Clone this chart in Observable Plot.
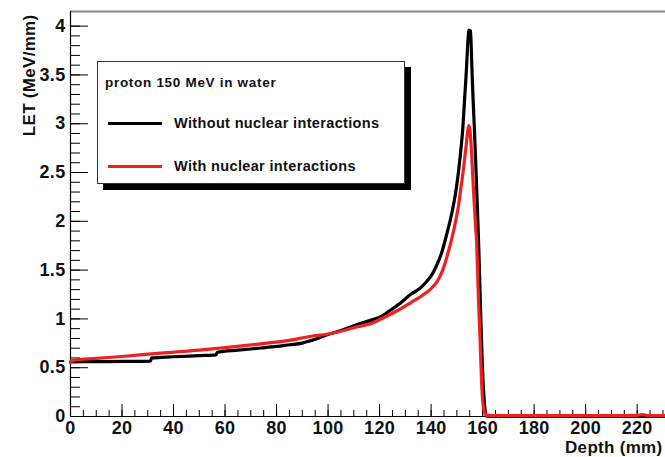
<!DOCTYPE html>
<html><head><meta charset="utf-8">
<script src="https://cdn.jsdelivr.net/npm/d3@7"></script>
<script src="https://cdn.jsdelivr.net/npm/@observablehq/plot@0.6"></script>
<style>
body{margin:0;background:#fff;}
#wrap{position:relative;width:665px;height:457px;overflow:hidden;}
.legend{position:absolute;left:97px;top:61px;width:308px;height:123px;border:1px solid #333;background:#fff;box-shadow:6px 6px 0 #000;font-family:"Liberation Sans",Arial,sans-serif;font-weight:bold;color:#111;box-sizing:border-box;}
.legend .hdr{position:absolute;left:7px;top:13px;font-size:13.5px;letter-spacing:0.7px;}
.legend .row{position:absolute;left:10px;height:20px;display:flex;align-items:center;}
.legend .sw{width:54px;height:3px;margin-right:12px;}
.legend .lab{font-size:14.5px;letter-spacing:0.35px;}
</style></head><body><div id="wrap"></div>
<script>
// ---- data ----
const depthBlack = [0, 5, 15, 25, 31, 31.5, 40, 50, 56.5, 57, 65, 74, 80, 85, 90, 93, 97, 100, 105, 110, 114, 117, 121, 124, 128, 132, 136, 138, 140, 142, 144, 146, 148, 149.5, 150.5, 151.5, 152.3, 153, 153.7, 154.3, 154.7, 155.3, 155.8, 156.3, 156.8, 157.4, 158, 158.6, 159.2, 159.8, 160.4, 161, 161.6, 231];
const letBlack = [0.560, 0.562, 0.563, 0.565, 0.566, 0.600, 0.612, 0.624, 0.632, 0.658, 0.680, 0.702, 0.718, 0.735, 0.752, 0.775, 0.810, 0.840, 0.880, 0.930, 0.965, 0.990, 1.030, 1.086, 1.160, 1.250, 1.320, 1.375, 1.440, 1.540, 1.670, 1.860, 2.080, 2.290, 2.480, 2.720, 2.950, 3.250, 3.550, 3.850, 3.960, 3.950, 3.600, 3.250, 2.950, 2.550, 2.120, 1.650, 1.100, 0.600, 0.250, 0.060, 0.0, 0.0];

const depthRed = [0, 0.3, 1, 10, 20, 35, 50, 60, 74, 85, 93, 100, 105, 110, 117, 124, 128, 132, 136, 140, 142.5, 144.5, 146.4, 148, 149.6, 150.7, 151.6, 152.4, 153.1, 153.7, 154.2, 154.6, 155.0, 155.5, 156.0, 156.6, 157.2, 157.7, 158.4, 159.0, 159.6, 160.2, 160.8, 161.5, 170, 190, 210, 220, 222, 224, 231];
const letRed = [0.55, 0.565, 0.575, 0.595, 0.615, 0.649, 0.680, 0.705, 0.745, 0.78, 0.82, 0.845, 0.874, 0.91, 0.956, 1.045, 1.10, 1.165, 1.23, 1.31, 1.39, 1.50, 1.66, 1.82, 2.01, 2.17, 2.35, 2.50, 2.66, 2.80, 2.92, 2.98, 2.95, 2.80, 2.55, 2.25, 1.98, 1.77, 1.19, 0.80, 0.35, 0.12, 0.04, 0.012, 0.01, 0.008, 0.009, 0.012, 0.02, 0.01, 0.01];

const xTicks = [0, 20, 40, 60, 80, 100, 120, 140, 160, 180, 200, 220];
const yTicks = [0, 0.5, 1, 1.5, 2, 2.5, 3, 3.5, 4];
const xDomain = [0, 231];
const yDomain = [0, 4.15];
const seriesNames = ["Without nuclear interactions", "With nuclear interactions"];
const seriesColors = ["#000000", "#ee2020"];
const legendTitle = "proton 150 MeV in water";
const xTitle = "Depth (mm)";
const yTitle = "LET (MeV/mm)";

const black = depthBlack.map((d, i) => ({depth: d, let: letBlack[i]}));
const red = depthRed.map((d, i) => ({depth: d, let: letRed[i]}));
const xMinor = d3.range(0, 231, 5);
const yMinor = d3.range(0, 41).map(i => i / 10);

const fam = "Liberation Sans, Arial, sans-serif";

const chart = Plot.plot({
  width: 665,
  height: 457,
  marginLeft: 70,
  marginRight: 0,
  marginTop: 11,
  marginBottom: 41,
  x: {domain: xDomain},
  y: {domain: yDomain},
  style: {fontFamily: fam, fontWeight: "bold", fontSize: "18px", background: "white", letterSpacing: "0.3px"},
  marks: [
    Plot.ruleY([yDomain[1]], {stroke: "#888", strokeWidth: 2}),
    Plot.axisX(xMinor, {tickSize: -6, tickFormat: () => "", label: null, stroke: "#000"}),
    Plot.axisX(xTicks, {tickSize: -12, tickFormat: () => "", label: null, stroke: "#000"}),
    Plot.axisX(xTicks, {tickSize: 0, tickPadding: 5, tickFormat: d => String(d), label: null, fontSize: 18, fill: "#111"}),
    Plot.axisY(yMinor, {tickSize: -10, tickFormat: () => "", label: null, stroke: "#000"}),
    Plot.axisY(yTicks, {tickSize: -18, tickFormat: () => "", label: null, stroke: "#000"}),
    Plot.axisY(yTicks, {tickSize: 0, tickPadding: 5, tickFormat: d => String(d), label: null, fontSize: 18, fill: "#111"}),
    Plot.ruleX([0], {stroke: "#000", strokeWidth: 1.2}),
    Plot.ruleY([0], {stroke: "#000", strokeWidth: 1.2}),
    Plot.line(black, {x: "depth", y: "let", stroke: seriesColors[0], strokeWidth: 3.2, curve: "monotone-x"}),
    Plot.line(red, {x: "depth", y: "let", stroke: seriesColors[1], strokeWidth: 3.2, curve: "monotone-x"}),
    Plot.text([yTitle], {frameAnchor: "top-left", rotate: -90, textAnchor: "end", dx: -48, dy: 3, fontSize: 17, fill: "#111"}),
    Plot.text([xTitle], {frameAnchor: "bottom-right", textAnchor: "end", lineAnchor: "middle", dx: -3, dy: 31, fontSize: 17, fill: "#111", letterSpacing: "0px"})
  ]
});

const wrap = document.getElementById("wrap");
wrap.appendChild(chart);

const lg = document.createElement("div");
lg.className = "legend";
lg.innerHTML = `<div class="hdr"></div>
<div class="row" style="top:51px"><div class="sw"></div><div class="lab"></div></div>
<div class="row" style="top:94px"><div class="sw"></div><div class="lab"></div></div>`;
lg.querySelector(".hdr").textContent = legendTitle;
const rows = lg.querySelectorAll(".row");
rows.forEach((r, i) => {
  r.querySelector(".sw").style.background = seriesColors[i];
  r.querySelector(".lab").textContent = seriesNames[i];
});
wrap.appendChild(lg);
</script>
</body></html>
